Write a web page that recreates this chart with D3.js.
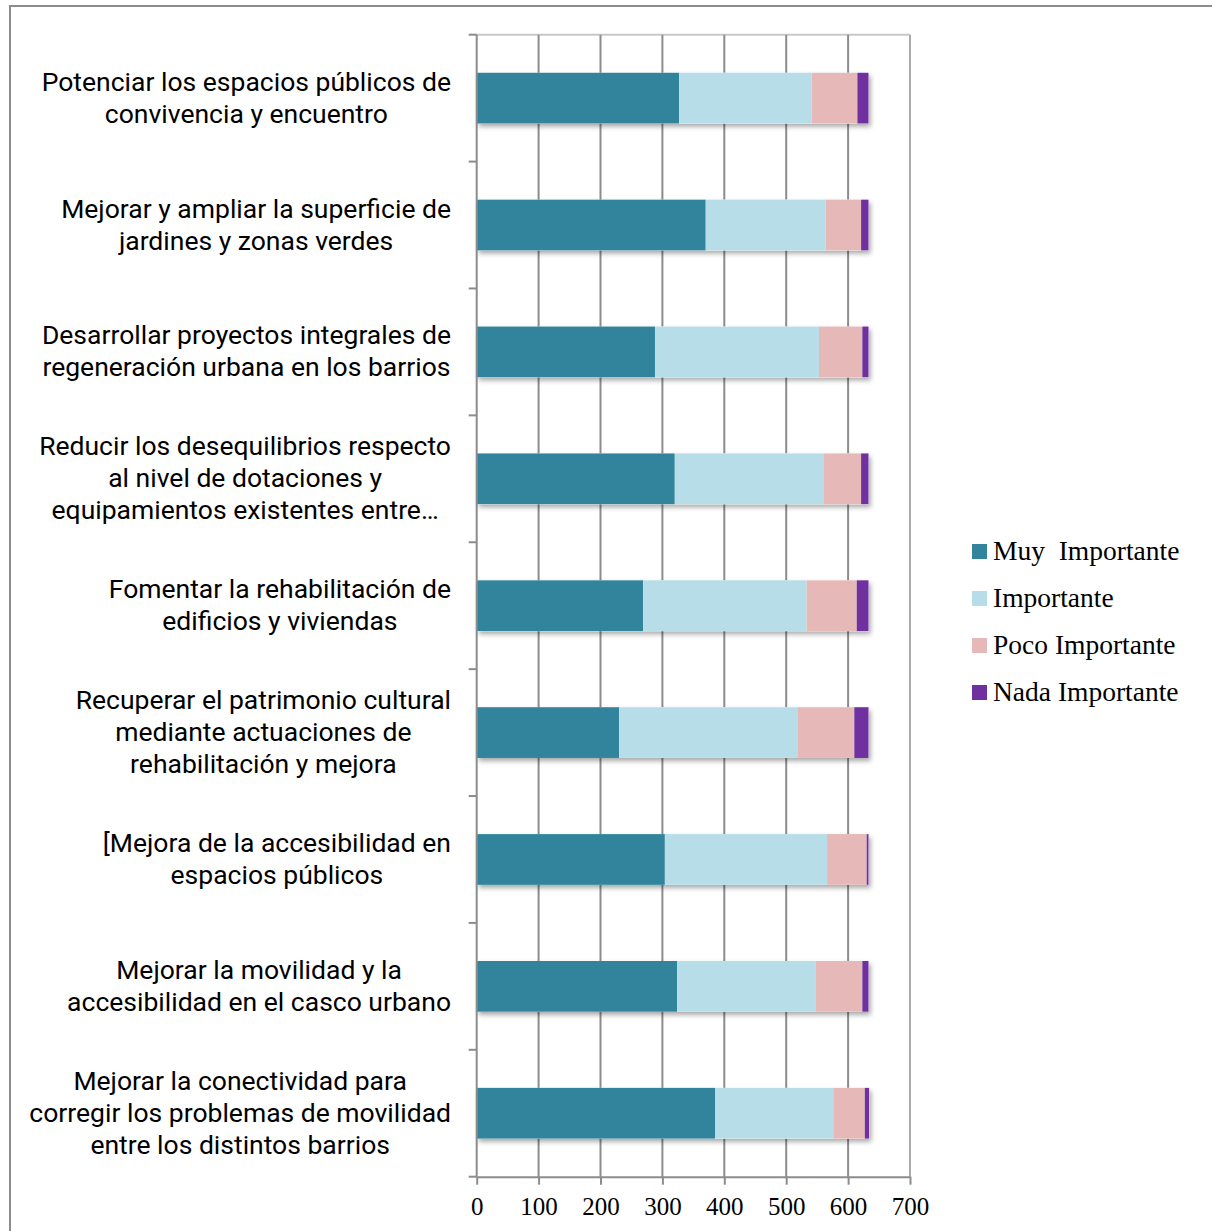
<!DOCTYPE html>
<html><head><meta charset="utf-8">
<script src="https://cdn.jsdelivr.net/npm/d3@7"></script>
<style>body{margin:0;background:#fff}</style>
</head><body>
<svg id="c" width="1212" height="1231"></svg>
<script>
const categories = [
  ["Potenciar los espacios públicos de","convivencia y encuentro"],
  ["Mejorar y ampliar la superficie de","jardines y zonas verdes"],
  ["Desarrollar proyectos integrales de","regeneración urbana en los barrios"],
  ["Reducir los desequilibrios respecto","al nivel de dotaciones y","equipamientos existentes entre…"],
  ["Fomentar la rehabilitación de","edificios y viviendas"],
  ["Recuperar el patrimonio cultural","mediante actuaciones de","rehabilitación y mejora"],
  ["[Mejora de la accesibilidad en","espacios públicos"],
  ["Mejorar la movilidad y la","accesibilidad en el casco urbano"],
  ["Mejorar la conectividad para","corregir los problemas de movilidad","entre los distintos barrios"]
];
const seriesNames = ["Muy  Importante","Importante","Poco Importante","Nada Importante"];
const muy   = [327,370,288,320,269,230,304,324,385];
const imp   = [214,194,265,240,264,289,262,224,191];
const poco  = [ 74, 57, 70, 61, 81, 91, 64, 75, 51];
const nada  = [ 18, 12, 10, 12, 19, 23,  3, 10,  7];
const xTicks = [0,100,200,300,400,500,600,700];
const colors = ["#31849B","#B7DEE8","#E6B9B8","#7030A0"];

const svg = d3.select("#c");
const defs = svg.append("defs");
const f = defs.append("filter").attr("id","sh").attr("x","-5%").attr("y","-20%").attr("width","115%").attr("height","160%");
f.append("feDropShadow").attr("dx",2).attr("dy",3).attr("stdDeviation",2.5).attr("flood-color","#000").attr("flood-opacity",0.35);

// outer border
svg.append("rect").attr("x",10).attr("y",6).attr("width",1230).attr("height",1260)
  .attr("fill","none").attr("stroke","#8c8c8c").attr("stroke-width",2);

const L = 476.7, R = 910, T = 34.7, B = 1176.7;
const x = d3.scaleLinear().domain([0,700]).range([L,R]);
const idx = d3.range(categories.length);
const y = d3.scaleBand().domain(idx).range([T,B]).paddingInner(0.6).paddingOuter(0.3);
const yb = d3.scaleBand().domain(idx).range([T,B]);

// top border line
svg.append("line").attr("x1",L).attr("x2",R).attr("y1",T).attr("y2",T).attr("stroke","#c8c8c8").attr("stroke-width",2);

// gridlines
svg.append("g").selectAll("line").data(xTicks.slice(1)).join("line")
  .attr("x1",d=>x(d)).attr("x2",d=>x(d)).attr("y1",T).attr("y2",B)
  .attr("stroke",d=>d===700?"#ababab":"#8c8c8c").attr("stroke-width",2);

// x axis
const xa = svg.append("g").attr("transform",`translate(0,${B})`)
  .call(d3.axisBottom(x).tickValues(xTicks).tickSize(8).tickSizeOuter(0).tickPadding(13));
xa.select(".domain").attr("stroke","#8c8c8c").attr("stroke-width",2);
xa.selectAll(".tick line").attr("stroke","#8c8c8c").attr("stroke-width",2);
xa.selectAll("text").attr("font-family","'Liberation Serif', serif").attr("font-size",25).attr("fill","#000");

// stacked bars
const rows = idx.map(i=>({i, vals:[muy[i],imp[i],poco[i],nada[i]]}));
const stack = d3.stack().keys([0,1,2,3]).value((d,k)=>d.vals[k]);
const stacked = stack(rows);
const gBars = svg.append("g");
rows.forEach((r,i)=>{
  const total = d3.sum(r.vals);
  gBars.append("rect").attr("x",x(0)).attr("y",y(i)).attr("width",x(total)-x(0)).attr("height",y.bandwidth())
    .attr("fill","#fff").attr("filter","url(#sh)");
});
stacked.forEach((s,k)=>{
  gBars.append("g").selectAll("rect").data(s).join("rect")
    .attr("x",d=>x(d[0])).attr("width",d=>x(d[1])-x(d[0]))
    .attr("y",d=>y(d.data.i)).attr("height",y.bandwidth())
    .attr("fill",colors[k]);
});

// y axis
const ya = svg.append("g").attr("transform",`translate(${L},0)`);
ya.append("line").attr("x1",0).attr("x2",0).attr("y1",T).attr("y2",B).attr("stroke","#8c8c8c").attr("stroke-width",2);
const bounds = idx.map(i=>yb(i)).concat([B]);
ya.selectAll("line.t").data(bounds).join("line").attr("class","t")
  .attr("x1",-8).attr("x2",0).attr("y1",d=>d).attr("y2",d=>d).attr("stroke","#8c8c8c").attr("stroke-width",2);

// category labels
const gl = svg.append("g").attr("font-family","Roboto, sans-serif").attr("font-size",26.5).attr("fill","#000");
categories.forEach((lines,i)=>{
  const cy = y(i)+y.bandwidth()/2 - 1;
  const n = lines.length, lh = 32;
  const t = gl.append("text").attr("text-anchor","middle");
  const spans = lines.map((ln,j)=>t.append("tspan").attr("y",cy+(j-(n-1)/2)*lh).attr("dominant-baseline","central").text(ln));
  const w = d3.max(spans.map(s=>s.node().getComputedTextLength()));
  const cx = 451 - w/2;
  spans.forEach(s=>s.attr("x",cx));
});

// legend
const lg = svg.append("g");
seriesNames.forEach((n,k)=>{
  const cy = 551.5 + k*47;
  lg.append("rect").attr("x",972).attr("y",cy-7.5).attr("width",15).attr("height",15).attr("fill",colors[k]);
  lg.append("text").attr("x",993).attr("y",cy-1).attr("dominant-baseline","central")
    .attr("font-family","'Liberation Serif', serif").attr("font-size",27.5).attr("fill","#000")
    .attr("xml:space","preserve").style("white-space","pre").text(n);
});
</script>
</body></html>
